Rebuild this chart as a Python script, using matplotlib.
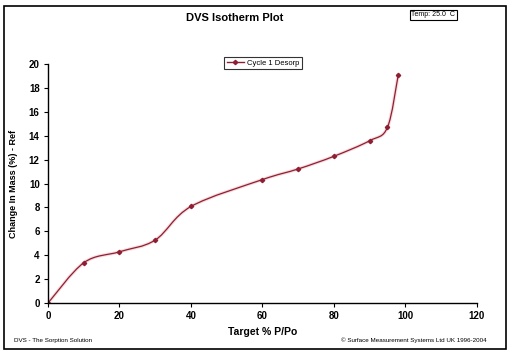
import matplotlib
matplotlib.use("Agg")
import matplotlib.pyplot as plt
from matplotlib.path import Path
from matplotlib.patches import PathPatch, Rectangle
from matplotlib.lines import Line2D

# Cycle 1 desorption isotherm
target_ppo = [0, 10, 20, 30, 40, 60, 70, 80, 90, 95, 98]
mass_change = [0.0, 3.37, 4.29, 5.27, 8.08, 10.33, 11.22, 12.28, 13.58, 14.7, 19.05]

x_ticks = [0, 20, 40, 60, 80, 100, 120]
y_ticks = [0, 2, 4, 6, 8, 10, 12, 14, 16, 18, 20]

LINE = "#8E1F33"
plt.rcParams["font.family"] = ["Liberation Sans", "DejaVu Sans"]


def smooth_path(xs, ys, tension=1 / 6):
    """Excel-like smoothed line: Catmull-Rom converted to cubic Bezier segments."""
    verts = [(xs[0], ys[0])]
    codes = [Path.MOVETO]
    n = len(xs)
    for i in range(n - 1):
        x0, y0 = (xs[i - 1], ys[i - 1]) if i > 0 else (xs[i], ys[i])
        x1, y1 = xs[i], ys[i]
        x2, y2 = xs[i + 1], ys[i + 1]
        x3, y3 = (xs[i + 2], ys[i + 2]) if i + 2 < n else (x2, y2)
        c1 = (x1 + (x2 - x0) * tension, y1 + (y2 - y0) * tension)
        c2 = (x2 - (x3 - x1) * tension, y2 - (y3 - y1) * tension)
        verts += [c1, c2, (x2, y2)]
        codes += [Path.CURVE4] * 3
    return Path(verts, codes)


fig = plt.figure(figsize=(5.11, 3.54), dpi=100)
ax = fig.add_axes([0.094, 0.144, 0.839, 0.675])

# faint pink halo like the original's soft rendering, then the line itself
ax.add_patch(PathPatch(smooth_path(target_ppo, mass_change), fill=False,
                       edgecolor="#F7DADD", lw=2.4))
ax.add_patch(PathPatch(smooth_path(target_ppo, mass_change), fill=False,
                       edgecolor=LINE, lw=0.9))
ax.plot(target_ppo, mass_change, ls="none", marker="D", ms=2.2, color=LINE)

ax.set_xlim(0, 120)
ax.set_ylim(0, 20)
ax.set_xticks(x_ticks)
ax.set_yticks(y_ticks)
for s in ("top", "right"):
    ax.spines[s].set_visible(False)
for s in ("left", "bottom"):
    ax.spines[s].set_linewidth(1.0)
ax.tick_params(labelsize=7, length=3, width=0.8, pad=3)
for lab in ax.get_xticklabels() + ax.get_yticklabels():
    lab.set_fontweight("bold")
ax.set_xlabel("Target % P/Po", fontsize=7.5, fontweight="bold", labelpad=4)
ax.set_ylabel("Change In Mass (%) - Ref", fontsize=6.5, fontweight="bold", labelpad=8)

fig.text(0.46, 0.948, "DVS Isotherm Plot", ha="center", va="center",
         fontsize=8, fontweight="bold")
fig.text(0.805, 0.958, "Temp: 25.0  C", ha="left", va="center", fontsize=5,
         bbox=dict(boxstyle="square,pad=0.25", fc="white", ec="black", lw=0.8))

handle = Line2D([], [], color=LINE, lw=1.0, marker="D", ms=2.2)
fig.legend([handle], ["Cycle 1 Desorp"], loc="center", bbox_to_anchor=(0.515, 0.822),
           fontsize=5.5, frameon=True, fancybox=False, edgecolor="black",
           handlelength=2.2, handletextpad=0.4, borderpad=0.35).get_frame().set_linewidth(0.8)

fig.text(0.027, 0.038, "DVS - The Sorption Solution", fontsize=4.5, va="center")
fig.text(0.953, 0.038, "\u00a9 Surface Measurement Systems Ltd UK 1996-2004",
         fontsize=4.5, va="center", ha="right")

fig.add_artist(Rectangle((0.008, 0.014), 0.982, 0.97, transform=fig.transFigure,
                         fill=False, ec="black", lw=1.2))

fig.savefig("out.png", dpi=100)
